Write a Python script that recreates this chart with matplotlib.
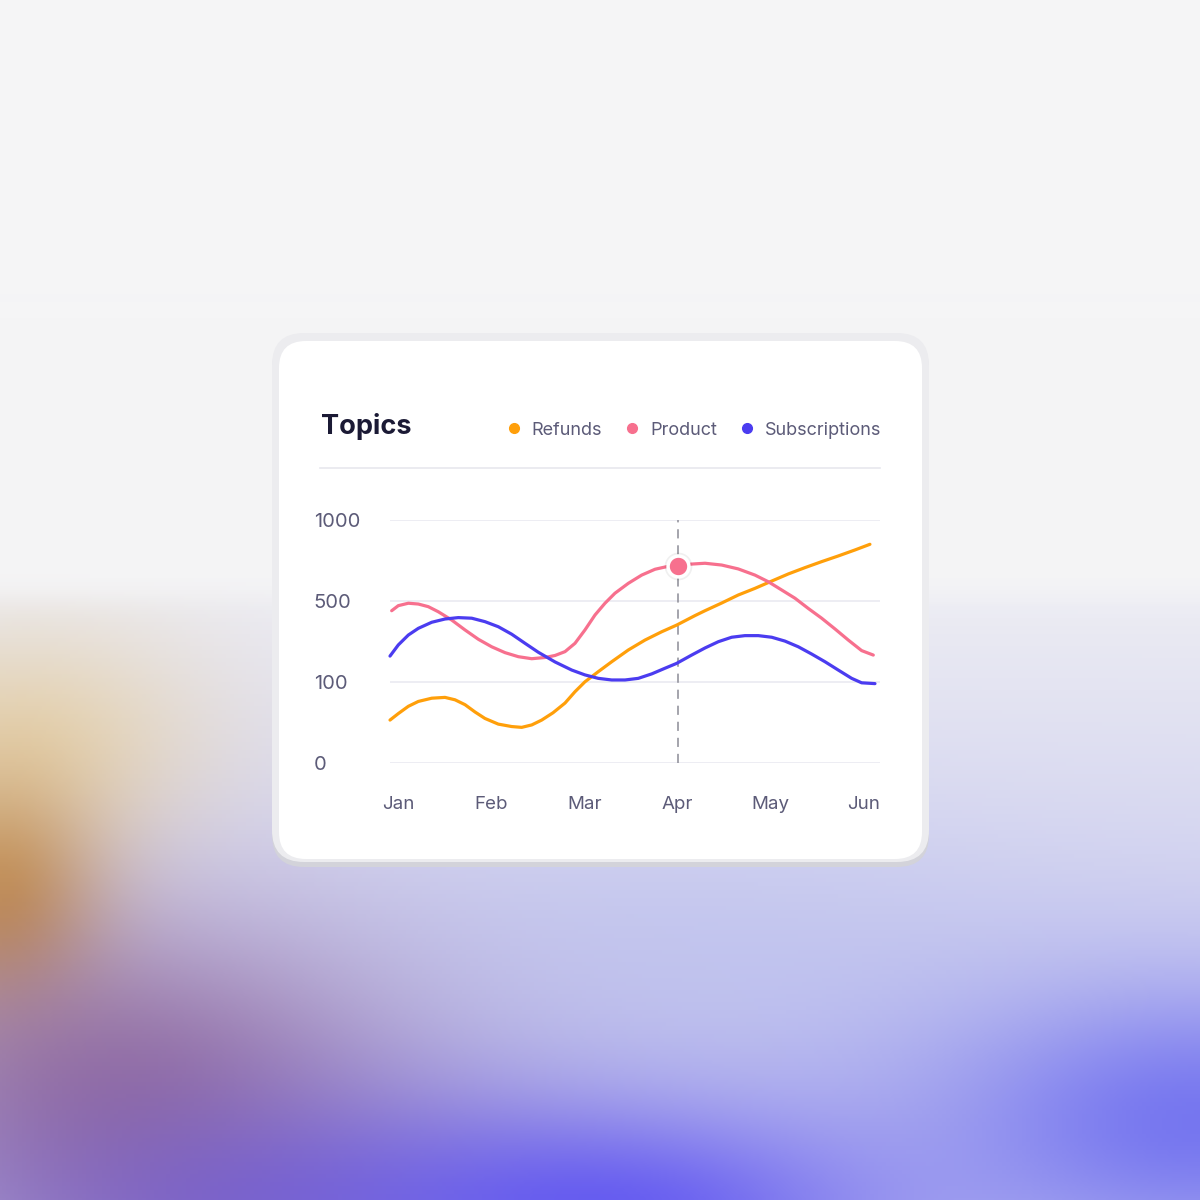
"""Topics card: three smooth monthly series on a piecewise y scale."""

import numpy as np
import matplotlib.pyplot as plt
from matplotlib.lines import Line2D
from matplotlib.patches import FancyBboxPatch

plt.rcParams["font.family"] = ["Inter", "DejaVu Sans"]

# Month labels (ticks at 0..5) and y tick values (drawn evenly spaced).
months = ["Jan", "Feb", "Mar", "Apr", "May", "Jun"]
y_ticks = [0, 100, 500, 1000]

# Curves: x in month units, y in counts.
refunds_x = [-0.086, 0.003, 0.111, 0.218, 0.362, 0.504, 0.612, 0.719, 0.826, 0.933,
             1.076, 1.220, 1.327, 1.435, 1.542, 1.663, 1.792, 1.899, 2.006, 2.149,
             2.293, 2.471, 2.650, 2.829, 2.990, 3.187, 3.294, 3.473, 3.651, 3.830,
             4.010, 4.188, 4.367, 4.546, 4.724, 4.903, 5.064]
refunds_y = [53, 61, 70, 76, 80, 81, 78, 72, 63, 55,
             48, 45, 44, 47, 53, 62, 74, 88, 101, 151,
             200, 258, 307, 348, 381, 428, 452, 490, 537, 578,
             623, 667, 706, 743, 778, 815, 850]

product_x = [-0.068, 0.003, 0.111, 0.218, 0.325, 0.432, 0.576, 0.719, 0.862, 1.005,
             1.148, 1.291, 1.435, 1.577, 1.685, 1.792, 1.899, 2.006, 2.114, 2.221,
             2.328, 2.471, 2.615, 2.758, 2.883, 2.990, 3.151, 3.294, 3.473, 3.651,
             3.830, 3.973, 4.117, 4.260, 4.403, 4.546, 4.689, 4.832, 4.975, 5.100]
product_y = [452, 477, 489, 485, 472, 447, 406, 357, 311, 274,
             245, 225, 215, 221, 231, 250, 291, 357, 431, 489,
             548, 609, 660, 696, 712, 715, 728, 733, 722, 698,
             660, 619, 568, 517, 463, 415, 362, 307, 255, 233]

subs_x = [-0.086, 0.003, 0.111, 0.218, 0.362, 0.504, 0.647, 0.791, 0.933, 1.076,
          1.220, 1.363, 1.505, 1.685, 1.864, 2.006, 2.149, 2.293, 2.436, 2.578,
          2.722, 2.865, 2.990, 3.151, 3.294, 3.437, 3.580, 3.723, 3.866, 4.010,
          4.152, 4.295, 4.439, 4.582, 4.724, 4.868, 4.975, 5.118]
subs_y = [228, 283, 332, 365, 395, 411, 418, 415, 398, 373,
          336, 291, 247, 199, 159, 135, 118, 110, 110, 118,
          140, 168, 192, 233, 268, 299, 321, 329, 329, 321,
          302, 274, 238, 200, 159, 118, 99, 98]

# Highlighted point (Product in Apr).
hover_x = 3
hover_y = 715

ORANGE = "#ff9f0a"
PINK = "#f7708e"
BLUE = "#4b3cf0"
TEXT = "#5c5b78"

fig = plt.figure(figsize=(12, 12), dpi=100)

# ---- background gradient + card, in pixel coordinates ----
bg = fig.add_axes([0, 0, 1, 1])
bg.set_xlim(0, 1200)
bg.set_ylim(1200, 0)
bg.axis("off")

yy, xx = np.mgrid[0:1200:4, 0:1200:4].astype(float)
top = np.array([245, 245, 246.0])
low_a = np.array([236, 236, 243.0])
low_b = np.array([196, 197, 238.0])
t = np.clip((yy - 600) / 450, 0, 1)[..., None]
lower = low_a * (1 - t) + low_b * t


def blob(cx, cy, sx, sy):
    return np.exp(-(((xx - cx) / sx) ** 2 + ((yy - cy) / sy) ** 2))[..., None]


layers = [
    ((30, 740, 180, 120), (232, 212, 170), 0.8),
    ((700, 960, 380, 130), (188, 192, 238), 0.6),
    ((0, 900, 100, 125), (200, 140, 55), 0.85),
    ((120, 1090, 270, 170), (140, 95, 145), 0.8),
    ((260, 1210, 300, 120), (112, 82, 195), 0.7),
    ((600, 1215, 300, 110), (92, 82, 242), 0.9),
    ((1200, 1120, 270, 130), (105, 105, 240), 0.85),
]
for (cx, cy, sx, sy), col, amp in layers:
    a = amp * blob(cx, cy, sx, sy)
    lower = lower * (1 - a) + np.array(col, float) * a

m = (1 / (1 + np.exp(-(yy - 595) / 8)))[..., None]
img = top * (1 - m) + lower * m
bg.imshow(img.astype(np.uint8), extent=(0, 1200, 1200, 0), interpolation="bilinear",
          aspect="auto", zorder=0)

bg.add_patch(FancyBboxPatch((272, 337), 657, 530, boxstyle="round,pad=0,rounding_size=32",
                            fc="#d3d3da", ec="none", zorder=1))
bg.add_patch(FancyBboxPatch((272, 333), 657, 529, boxstyle="round,pad=0,rounding_size=32",
                            fc="#ececef", ec="none", zorder=2))
bg.add_patch(FancyBboxPatch((279, 341), 643, 518, boxstyle="round,pad=0,rounding_size=27",
                            fc="white", ec="none", zorder=3))
bg.plot([320, 880], [468, 468], color="#e7e7ee", lw=1.2, zorder=4)

fig.text(321 / 1200, 1 - 426 / 1200, "Topics", fontsize=19.5, fontweight="bold",
         color="#1b1a35", ha="left", va="center")

# ---- chart ----
ax = fig.add_axes([390 / 1200, 1 - 763 / 1200, 490 / 1200, 243 / 1200])
ax.set_facecolor("none")


def fwd(v):
    return np.interp(v, y_ticks, [0, 1, 2, 3])


def inv(v):
    return np.interp(v, [0, 1, 2, 3], y_ticks)


ax.set_yscale("function", functions=(fwd, inv))
ax.set_ylim(0, 1000)
ax.set_xlim(-0.086, 5.172)

for s in ax.spines.values():
    s.set_visible(False)
ax.set_yticks(y_ticks)
ax.set_yticklabels([str(v) for v in y_ticks])
ax.set_xticks(range(len(months)))
ax.set_xticklabels(months)
ax.yaxis.set_minor_locator(plt.NullLocator())
ax.tick_params(axis="both", length=0, labelcolor=TEXT)
ax.tick_params(axis="x", labelsize=13.5, pad=24)
ax.tick_params(axis="y", labelsize=14.5, pad=55)
for lab in ax.get_yticklabels():
    lab.set_horizontalalignment("left")
ax.grid(axis="y", color="#e8e8f0", lw=1.1)
ax.grid(axis="x", visible=False)
ax.set_axisbelow(True)

ax.axvline(hover_x, color="#8c8c96", lw=1.1, ls=(0, (6, 4.5)), zorder=2)

for xs, ys, col in ((refunds_x, refunds_y, ORANGE), (product_x, product_y, PINK),
                    (subs_x, subs_y, BLUE)):
    ax.plot(xs, ys, color=col, lw=2.3, solid_capstyle="round",
            solid_joinstyle="round", clip_on=False, zorder=3)

# hover marker with soft shadow
ax.plot([hover_x], [hover_y], "o", ms=20, color="#000000", alpha=0.06, mew=0,
        zorder=4, clip_on=False)
ax.plot([hover_x], [hover_y], "o", ms=15, color=PINK, mec="white", mew=2.5,
        zorder=5, clip_on=False)

handles = [Line2D([], [], ls="none", marker="o", ms=7, color=c) for c in (ORANGE, PINK, BLUE)]
fig.legend(handles, ["Refunds", "Product", "Subscriptions"], ncol=3, frameon=False,
           loc="center right", bbox_to_anchor=(881 / 1200, 1 - 430 / 1200),
           fontsize=13, labelcolor=TEXT, handlelength=0.6, handletextpad=0.7,
           columnspacing=1.35, borderpad=0, borderaxespad=0)

plt.savefig("out.png", dpi=100)
